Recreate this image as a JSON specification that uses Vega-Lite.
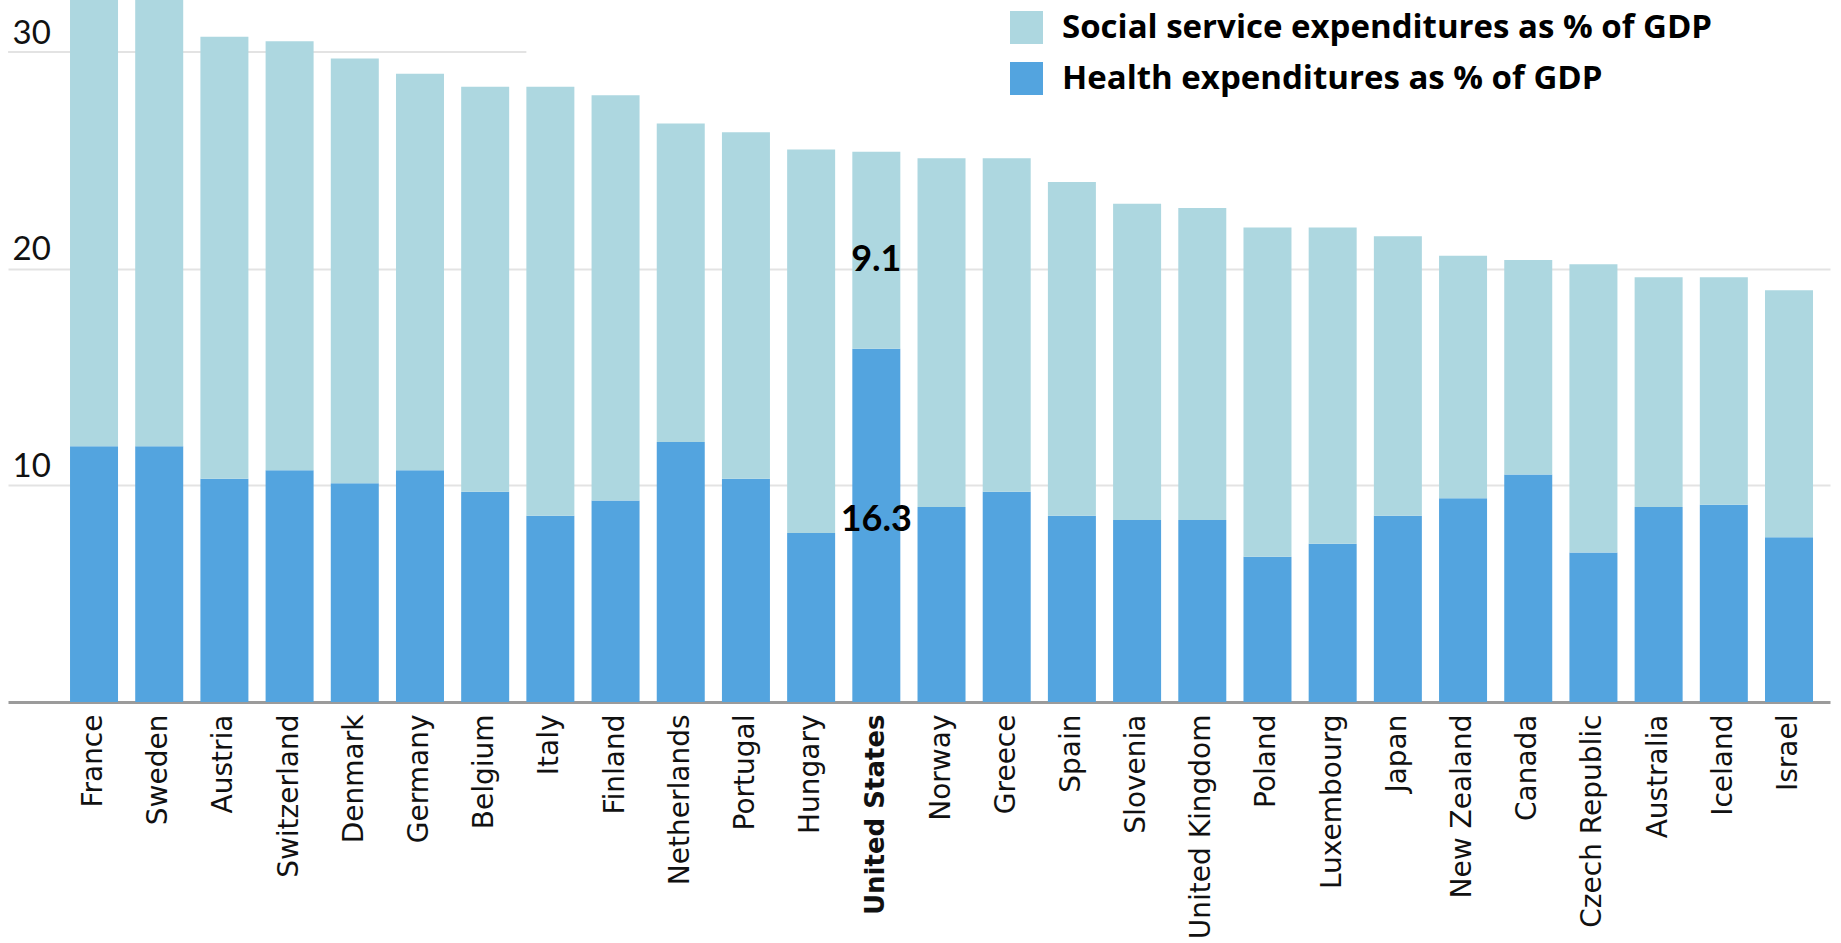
{
  "$schema": "https://vega.github.io/schema/vega-lite/v6.json",
  "width": 1822,
  "height": 702,
  "autosize": {"type": "none"},
  "padding": {"left": 8, "top": 0, "right": 11, "bottom": 241},
  "background": "white",
  "config": {
    "view": {"stroke": null},
    "legend": {
      "orient": "none",
      "legendX": 1002,
      "legendY": 11,
      "padding": 0,
      "symbolType": "square",
      "symbolSize": 1089,
      "symbolStrokeWidth": 0,
      "labelFont": "Open Sans",
      "labelFontSize": 33,
      "labelFontWeight": "bold",
      "labelColor": "#000000",
      "labelOffset": 19,
      "labelLimit": 0,
      "rowPadding": 17
    }
  },
  "datasets": {
    "exp": [
      {"country": "France", "type": "Health expenditures as % of GDP", "value": 11.8},
      {"country": "France", "type": "Social service expenditures as % of GDP", "value": 21.0},
      {"country": "Sweden", "type": "Health expenditures as % of GDP", "value": 11.8},
      {"country": "Sweden", "type": "Social service expenditures as % of GDP", "value": 21.0},
      {"country": "Austria", "type": "Health expenditures as % of GDP", "value": 10.3},
      {"country": "Austria", "type": "Social service expenditures as % of GDP", "value": 20.4},
      {"country": "Switzerland", "type": "Health expenditures as % of GDP", "value": 10.7},
      {"country": "Switzerland", "type": "Social service expenditures as % of GDP", "value": 19.8},
      {"country": "Denmark", "type": "Health expenditures as % of GDP", "value": 10.1},
      {"country": "Denmark", "type": "Social service expenditures as % of GDP", "value": 19.6},
      {"country": "Germany", "type": "Health expenditures as % of GDP", "value": 10.7},
      {"country": "Germany", "type": "Social service expenditures as % of GDP", "value": 18.3},
      {"country": "Belgium", "type": "Health expenditures as % of GDP", "value": 9.7},
      {"country": "Belgium", "type": "Social service expenditures as % of GDP", "value": 18.7},
      {"country": "Italy", "type": "Health expenditures as % of GDP", "value": 8.6},
      {"country": "Italy", "type": "Social service expenditures as % of GDP", "value": 19.8},
      {"country": "Finland", "type": "Health expenditures as % of GDP", "value": 9.3},
      {"country": "Finland", "type": "Social service expenditures as % of GDP", "value": 18.7},
      {"country": "Netherlands", "type": "Health expenditures as % of GDP", "value": 12.0},
      {"country": "Netherlands", "type": "Social service expenditures as % of GDP", "value": 14.7},
      {"country": "Portugal", "type": "Health expenditures as % of GDP", "value": 10.3},
      {"country": "Portugal", "type": "Social service expenditures as % of GDP", "value": 16.0},
      {"country": "Hungary", "type": "Health expenditures as % of GDP", "value": 7.8},
      {"country": "Hungary", "type": "Social service expenditures as % of GDP", "value": 17.7},
      {"country": "United States", "type": "Health expenditures as % of GDP", "value": 16.3},
      {"country": "United States", "type": "Social service expenditures as % of GDP", "value": 9.1},
      {"country": "Norway", "type": "Health expenditures as % of GDP", "value": 9.0},
      {"country": "Norway", "type": "Social service expenditures as % of GDP", "value": 16.1},
      {"country": "Greece", "type": "Health expenditures as % of GDP", "value": 9.7},
      {"country": "Greece", "type": "Social service expenditures as % of GDP", "value": 15.4},
      {"country": "Spain", "type": "Health expenditures as % of GDP", "value": 8.6},
      {"country": "Spain", "type": "Social service expenditures as % of GDP", "value": 15.4},
      {"country": "Slovenia", "type": "Health expenditures as % of GDP", "value": 8.4},
      {"country": "Slovenia", "type": "Social service expenditures as % of GDP", "value": 14.6},
      {"country": "United Kingdom", "type": "Health expenditures as % of GDP", "value": 8.4},
      {"country": "United Kingdom", "type": "Social service expenditures as % of GDP", "value": 14.4},
      {"country": "Poland", "type": "Health expenditures as % of GDP", "value": 6.7},
      {"country": "Poland", "type": "Social service expenditures as % of GDP", "value": 15.2},
      {"country": "Luxembourg", "type": "Health expenditures as % of GDP", "value": 7.3},
      {"country": "Luxembourg", "type": "Social service expenditures as % of GDP", "value": 14.6},
      {"country": "Japan", "type": "Health expenditures as % of GDP", "value": 8.6},
      {"country": "Japan", "type": "Social service expenditures as % of GDP", "value": 12.9},
      {"country": "New Zealand", "type": "Health expenditures as % of GDP", "value": 9.4},
      {"country": "New Zealand", "type": "Social service expenditures as % of GDP", "value": 11.2},
      {"country": "Canada", "type": "Health expenditures as % of GDP", "value": 10.5},
      {"country": "Canada", "type": "Social service expenditures as % of GDP", "value": 9.9},
      {"country": "Czech Republic", "type": "Health expenditures as % of GDP", "value": 6.9},
      {"country": "Czech Republic", "type": "Social service expenditures as % of GDP", "value": 13.3},
      {"country": "Australia", "type": "Health expenditures as % of GDP", "value": 9.0},
      {"country": "Australia", "type": "Social service expenditures as % of GDP", "value": 10.6},
      {"country": "Iceland", "type": "Health expenditures as % of GDP", "value": 9.1},
      {"country": "Iceland", "type": "Social service expenditures as % of GDP", "value": 10.5},
      {"country": "Israel", "type": "Health expenditures as % of GDP", "value": 7.6},
      {"country": "Israel", "type": "Social service expenditures as % of GDP", "value": 11.4}
    ],
    "grid30": [{"g": 30, "from": "France", "until": "Italy"}]
  },
  "layer": [
    {
      "data": {"name": "grid30"},
      "mark": {"type": "rule", "color": "#e3e3e3", "strokeWidth": 2},
      "encoding": {
        "y": {"field": "g", "type": "quantitative", "title": null},
        "x": {"field": "from", "type": "nominal", "sort": null, "bandPosition": -1.29},
        "x2": {"field": "until", "bandPosition": 0}
      }
    },
    {
      "data": {"name": "exp"},
      "transform": [
        {"stack": "value", "groupby": ["country"], "sort": [{"field": "type", "order": "ascending"}], "as": ["v0", "v1"]}
      ],
      "mark": {"type": "bar", "clip": true},
      "encoding": {
        "x": {
          "field": "country",
          "type": "nominal",
          "sort": null,
          "title": null,
          "scale": {
            "domain": ["France", "Sweden", "Austria", "Switzerland", "Denmark", "Germany", "Belgium", "Italy", "Finland", "Netherlands", "Portugal", "Hungary", "United States", "Norway", "Greece", "Spain", "Slovenia", "United Kingdom", "Poland", "Luxembourg", "Japan", "New Zealand", "Canada", "Czech Republic", "Australia", "Iceland", "Israel"],
            "paddingInner": 0.2637,
            "paddingOuter": 0.606,
            "align": 0.785
          },
          "axis": {
            "labelAngle": -90,
            "labelAlign": "right",
            "labelBaseline": "middle",
            "labelPadding": 12,
            "ticks": false,
            "tickSize": 0,
            "domain": true,
            "domainColor": "#9b9b9b",
            "domainWidth": 3,
            "grid": false,
            "labelFont": "DejaVu Sans",
            "labelFontSize": {"condition": {"test": "datum.value === 'United States'", "value": 26}, "value": 28},
            "labelColor": "#111111",
            "labelLimit": 0,
            "labelFontWeight": {"condition": {"test": "datum.value === 'United States'", "value": "bold"}, "value": "normal"}
          }
        },
        "y": {
          "field": "v0",
          "type": "quantitative",
          "title": null,
          "scale": {"domain": [0, 32.4], "nice": false},
          "axis": {
            "values": [10, 20, 30],
            "domain": false,
            "ticks": false,
            "tickSize": 0,
            "grid": true,
            "gridColor": "#e3e3e3",
            "gridWidth": 2,
            "gridOpacity": {"condition": {"test": "datum.value === 30", "value": 0}, "value": 1},
            "labelAlign": "left",
            "labelBaseline": "alphabetic",
            "labelPadding": -4,
            "labelOffset": -9,
            "labelFont": "Lato",
            "labelFontSize": 33,
            "labelColor": "#111111"
          }
        },
        "y2": {"field": "v1"},
        "color": {
          "field": "type",
          "type": "nominal",
          "title": null,
          "scale": {
            "domain": ["Social service expenditures as % of GDP", "Health expenditures as % of GDP"],
            "range": ["#ADD7E0", "#53A4DF"]
          }
        }
      }
    },
    {
      "data": {"name": "exp"},
      "transform": [
        {"stack": "value", "groupby": ["country"], "sort": [{"field": "type", "order": "ascending"}], "as": ["v0", "v1"]},
        {"filter": "datum.country === 'United States' && datum.type === 'Social service expenditures as % of GDP'"},
        {"calculate": "(datum.v0 + datum.v1) / 2", "as": "mid"}
      ],
      "mark": {"type": "text", "font": "Lato", "fontWeight": "bold", "fontSize": 36, "color": "#000000", "baseline": "middle", "align": "center", "dy": 10},
      "encoding": {
        "x": {"field": "country", "type": "nominal", "sort": null},
        "y": {"field": "mid", "type": "quantitative", "title": null},
        "text": {"field": "value", "type": "quantitative", "format": ".1f"}
      }
    },
    {
      "data": {"name": "exp"},
      "transform": [
        {"stack": "value", "groupby": ["country"], "sort": [{"field": "type", "order": "ascending"}], "as": ["v0", "v1"]},
        {"filter": "datum.country === 'United States' && datum.type === 'Health expenditures as % of GDP'"},
        {"calculate": "(datum.v0 + datum.v1) / 2", "as": "mid"}
      ],
      "mark": {"type": "text", "font": "Lato", "fontWeight": "bold", "fontSize": 36, "color": "#000000", "baseline": "middle", "align": "center", "dy": -5},
      "encoding": {
        "x": {"field": "country", "type": "nominal", "sort": null},
        "y": {"field": "mid", "type": "quantitative", "title": null},
        "text": {"field": "value", "type": "quantitative", "format": ".1f"}
      }
    }
  ]
}
